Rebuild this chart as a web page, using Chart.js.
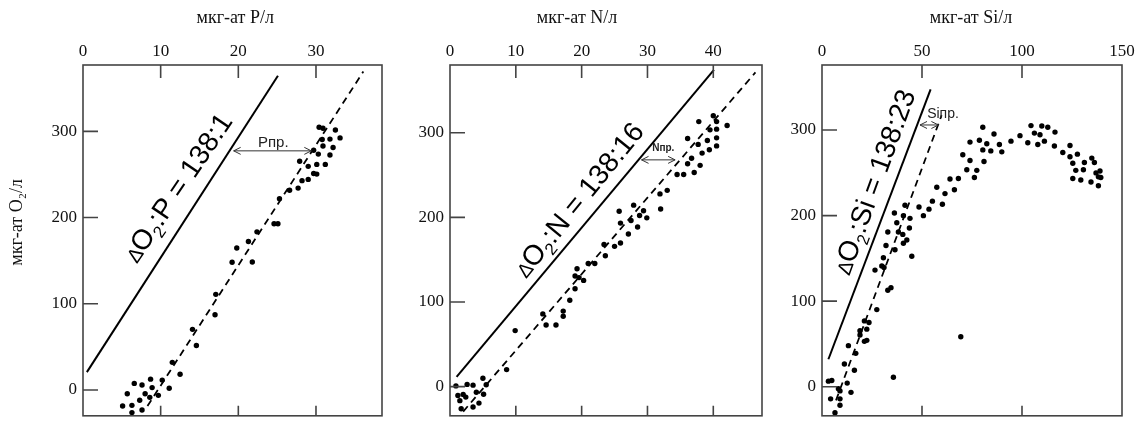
<!DOCTYPE html>
<html>
<head>
<meta charset="utf-8">
<script src="https://cdn.jsdelivr.net/npm/chart.js@4.4.1/dist/chart.umd.min.js"></script>
<style>
  body { margin: 0; background: #fff; width: 1140px; height: 432px; overflow: hidden; position: relative; }
  .panel { position: absolute; top: 0; height: 432px; }
</style>
</head>
<body>
<div class="panel" style="left:0px;width:383px"><canvas id="chartP" width="383" height="432"></canvas></div>
<div class="panel" style="left:383px;width:380px"><canvas id="chartN" width="380" height="432"></canvas></div>
<div class="panel" style="left:763px;width:377px"><canvas id="chartSi" width="377" height="432"></canvas></div>
<script>
// tick labels
const yTicks = [0, 100, 200, 300];
const xTicksP = [0, 10, 20, 30];
const xTicksN = [0, 10, 20, 30, 40];
const xTicksSi = [0, 50, 100, 150];

// measured points [x, O2]
const pointsP = [
  [5.1,-18.7],[6.3,-17.9],[6.3,-26.3],[7.6,-23.2],[5.7,-4.4],[7.3,-12.0],[6.6,7.6],[7.6,5.7],
  [8.0,-4.4],[8.7,12.5],[8.9,2.7],[8.6,-8.6],[9.7,-6.3],[10.2,11.4],[11.1,1.9],[11.5,32.0],
  [12.5,18.2],[14.1,70.3],[14.6,51.5],[17.0,87.3],[17.1,110.9],[19.2,148.1],[19.8,164.7],
  [21.3,172.2],[21.8,148.5],[22.4,183.4],[24.6,192.9],[25.1,192.9],[25.3,221.8],[26.6,231.6],
  [27.7,234.2],[28.2,242.8],[29.0,244.3],[27.9,265.4],[29.0,259.4],[29.7,251.1],[30.1,250.4],
  [30.1,261.7],[31.2,261.7],[30.3,273.6],[31.8,272.5],[29.7,278.1],[30.9,283.1],[32.2,281.2],
  [30.8,290.5],[31.8,291.0],[33.1,292.4],[32.5,301.5],[30.4,304.8],[30.9,303.7]
];
const pointsN = [
  [0.9,0.8],[2.6,2.6],[3.5,1.7],[5.0,9.8],[5.5,2.1],[1.2,-10.6],[2.0,-9.4],[2.4,-12.4],
  [1.5,-16.6],[4.0,-6.7],[5.1,-9.0],[4.4,-19.5],[3.5,-24.1],[1.7,-26.2],[8.6,20.1],[9.9,66.2],
  [14.1,85.9],[14.6,72.7],[16.1,72.7],[17.2,89.2],[17.2,83.2],[18.2,102.0],[19.0,115.7],
  [19.0,130.7],[19.3,139.3],[19.6,128.8],[20.3,125.5],[21.0,145.5],[22.0,145.5],[23.6,154.6],
  [23.4,167.9],[25.0,165.7],[25.9,169.6],[25.9,193.2],[25.7,207.2],[27.1,180.3],[27.5,196.3],
  [27.9,214.4],[28.5,188.6],[28.8,202.1],[29.4,207.8],[29.9,199.4],[31.9,227.7],[32.0,209.8],
  [33.0,231.9],[34.5,250.6],[35.5,250.6],[36.1,293.1],[36.1,263.3],[36.7,269.8],[37.1,252.9],
  [37.7,286.2],[38.0,261.4],[37.8,313.1],[38.3,275.9],[39.1,290.8],[39.4,279.8],[39.5,303.4],
  [40.0,320.0],[40.5,313.1],[40.5,304.2],[40.5,293.9],[40.5,284.4],[42.1,308.5]
];
const pointsSi = [
  [6.5,-30.3],[9.0,-21.6],[4.3,-14.2],[9.0,-14.2],[3.2,6.5],[4.9,7.3],[8.2,-2.3],[9.0,-4.9],
  [12.6,4.2],[14.5,-6.6],[11.2,26.5],[16.2,19.3],[13.2,48.0],[16.9,39.0],[35.7,11.0],[69.4,58.4],
  [21.2,53.0],[22.4,54.2],[19.0,65.5],[22.4,67.3],[19.0,60.5],[23.5,75.0],[21.2,76.9],[27.4,90.1],
  [32.9,112.8],[34.5,115.8],[26.5,136.3],[29.9,141.2],[31.0,139.4],[30.7,150.7],[36.5,160.1],
  [32.0,165.0],[44.9,152.5],[42.4,171.5],[40.7,167.7],[32.9,180.9],[38.2,180.9],[43.7,185.5],
  [40.4,178.0],[37.4,191.6],[44.0,196.8],[40.7,199.9],[36.2,203.0],[41.5,212.0],[48.5,210.1],
  [50.7,199.9],[53.5,207.5],[55.2,216.9],[60.2,213.2],[57.4,233.2],[61.5,225.7],[66.2,230.2],
  [64.0,242.7],[68.2,243.4],[70.4,271.1],[72.4,253.6],[77.4,252.9],[76.2,244.5],[74.0,264.3],
  [81.0,263.2],[74.0,285.9],[78.7,288.1],[80.4,303.2],[80.4,276.8],[82.4,283.9],[84.4,275.6],
  [86.0,295.3],[88.7,283.1],[89.9,274.5],[94.5,287.0],[99.0,293.4],[102.9,285.1],[104.5,305.2],
  [106.2,296.4],[109.0,294.5],[107.9,283.1],[111.2,287.0],[109.9,304.7],[112.9,303.2],[116.5,297.6],
  [116.2,281.3],[120.4,273.7],[124.0,282.0],[124.0,268.8],[127.7,271.8],[125.4,261.2],[131.2,262.0],
  [134.9,267.2],[136.2,262.0],[126.9,252.9],[130.7,253.6],[125.4,243.4],[129.4,241.6],[134.5,239.3],
  [137.0,249.9],[139.0,252.1],[138.2,245.3],[139.4,244.5],[138.2,234.8]
];

// ratio lines (solid) and fitted lines (dashed), endpoints
const solidP = [[0.5,20.7],[25.1,364.6]];
const dashedP = [[8.3,-18.7],[36.1,369.4]];
const solidN = [[1.0,11.5],[40.1,374.3]];
const dashedN = [[2.0,-29.5],[46.4,371.2]];
const solidSi = [[3.2,32.1],[54.3,347.5]];
const dashedSi = [[7.0,-15.9],[59.8,317.2]];

// preformed-nutrient arrows: [xFrom, xTo, y]
const arrowP = [19.4, 29.4, 277.4];
const arrowN = [29.1, 34.2, 267.9];
const arrowSi = [49.0, 58.2, 305.9];

const SANS = '"Liberation Sans", Arial, sans-serif';
const SERIF = '"Liberation Serif", "Times New Roman", serif';

function drawRatioText(ctx, parts, cx, cy, deg, size) {
    ctx.save();
    ctx.translate(cx, cy);
    ctx.rotate(deg * Math.PI / 180);
    let w = 0;
    parts.forEach(p => {
        ctx.font = Math.round(size * p.s) + 'px ' + SANS;
        p.w = ctx.measureText(p.t).width;
        w += p.w;
    });
    let x = -w / 2;
    ctx.textAlign = 'left';
    ctx.textBaseline = 'alphabetic';
    parts.forEach(p => {
        ctx.font = Math.round(size * p.s) + 'px ' + SANS;
        ctx.fillText(p.t, x, size * 0.36 + (p.dy || 0) * size);
        x += p.w;
    });
    ctx.restore();
}

function drawArrow(ctx, x1, x2, y) {
    ctx.beginPath();
    ctx.moveTo(x1, y); ctx.lineTo(x2, y);
    ctx.moveTo(x1 + 7, y - 3.5); ctx.lineTo(x1, y); ctx.lineTo(x1 + 7, y + 3.5);
    ctx.moveTo(x2 - 7, y - 3.5); ctx.lineTo(x2, y); ctx.lineTo(x2 - 7, y + 3.5);
    ctx.stroke();
}

const decoPlugin = {
    id: 'deco',
    afterDatasetsDraw(chart, args, o) {
        const ctx = chart.ctx;
        const a = chart.chartArea;
        const x = chart.scales.x, y = chart.scales.y;
        ctx.save();
        // frame and inner ticks
        ctx.strokeStyle = '#444';
        ctx.lineWidth = 1.6;
        ctx.strokeRect(a.left, a.top, a.right - a.left, a.bottom - a.top);
        ctx.beginPath();
        o.marks.forEach(v => {
            const px = x.getPixelForValue(v);
            ctx.moveTo(px, a.top); ctx.lineTo(px, a.top + 13);
            ctx.moveTo(px, a.bottom); ctx.lineTo(px, a.bottom - 10);
        });
        yTicks.forEach(v => {
            const py = y.getPixelForValue(v);
            ctx.moveTo(a.left, py); ctx.lineTo(a.left + 15, py);
        });
        ctx.stroke();

        // axis titles
        ctx.fillStyle = '#111';
        ctx.font = '18px ' + SERIF;
        ctx.textAlign = 'center';
        ctx.textBaseline = 'middle';
        ctx.fillText(o.title, x.getPixelForValue(o.titleAt), a.top - 47);
        if (o.yTitle) {
            ctx.save();
            ctx.translate(a.left - 66, (a.top + a.bottom) / 2 - 18);
            ctx.rotate(-Math.PI / 2);
            ctx.fillText(o.yTitle, 0, 0);
            ctx.restore();
        }

        // arrow + label
        ctx.strokeStyle = '#333';
        ctx.lineWidth = 1;
        const ay = y.getPixelForValue(o.arrow[2]);
        drawArrow(ctx, x.getPixelForValue(o.arrow[0]), x.getPixelForValue(o.arrow[1]), ay);
        ctx.fillStyle = '#222';
        ctx.font = o.arrowFont + ' ' + SANS;
        ctx.fillText(o.arrowText, x.getPixelForValue(o.arrowTextAt[0]), y.getPixelForValue(o.arrowTextAt[1]));

        // ratio label along the solid line
        ctx.fillStyle = '#000';
        drawRatioText(ctx, o.ratio, x.getPixelForValue(o.ratioAt[0]), y.getPixelForValue(o.ratioAt[1]), o.ratioAngle, 28);
        ctx.restore();
    }
};

function toXY(arr) {
    return arr.map(p => ({ x: p[0], y: p[1] }));
}

function makePanel(id, cfg) {
    return new Chart(document.getElementById(id), {
        type: 'scatter',
        data: {
            datasets: [
                { data: toXY(cfg.points), pointRadius: 2.7, pointBackgroundColor: '#000', pointBorderWidth: 0, order: 0 },
                { type: 'line', data: toXY(cfg.solid), borderColor: '#000', borderWidth: 2, pointRadius: 0, fill: false, order: 1 },
                { type: 'line', data: toXY(cfg.dashed), borderColor: '#000', borderWidth: 1.8, borderDash: [7, 5], pointRadius: 0, fill: false, order: 2 }
            ]
        },
        options: {
            responsive: false,
            animation: false,
            devicePixelRatio: 1,
            layout: { autoPadding: false, padding: { left: 0, top: 0, right: cfg.padRight, bottom: 6 } },
            plugins: {
                legend: { display: false },
                tooltip: { enabled: false },
                deco: cfg.deco
            },
            scales: {
                x: {
                    type: 'linear', position: 'top', min: cfg.xMin, max: cfg.xMax,
                    afterFit: s => { s.height = 65; },
                    afterBuildTicks: s => { s.ticks = cfg.xTicks.map(v => ({ value: v })); },
                    grid: { display: false, drawTicks: false },
                    border: { display: false },
                    ticks: { padding: 3, autoSkip: false, maxRotation: 0, color: '#111', font: { family: SERIF, size: 17 } }
                },
                y: {
                    type: 'linear', position: 'left', min: cfg.yMin, max: cfg.yMax,
                    afterFit: s => { s.width = cfg.yWidth; },
                    afterBuildTicks: s => { s.ticks = yTicks.map(v => ({ value: v })); },
                    grid: { display: false, drawTicks: false },
                    border: { display: false },
                    ticks: { padding: 6, color: '#111', font: { family: SERIF, size: 17 } }
                }
            }
        },
        plugins: [decoPlugin]
    });
}

makePanel('chartP', {
    points: pointsP, solid: solidP, dashed: dashedP, xTicks: xTicksP,
    xMin: 0, xMax: 38.5, yMin: -30, yMax: 377, yWidth: 83, padRight: 1,
    deco: {
        marks: [10, 20, 30], title: 'мкг-ат P/л', titleAt: 19.6, yTitle: 'мкг-ат O₂/л',
        arrow: arrowP, arrowText: 'Pпр.', arrowTextAt: [24.5, 286.8], arrowFont: '15px',
        ratio: [{ t: '∆', s: 0.7 }, { t: 'O', s: 1 }, { t: '2', s: 0.6, dy: 0.22 }, { t: ':P = 138:1', s: 1 }],
        ratioAt: [12.1, 235.5], ratioAngle: -56
    }
});

makePanel('chartN', {
    points: pointsN, solid: solidN, dashed: dashedN, xTicks: xTicksN,
    xMin: 0, xMax: 47.4, yMin: -34.5, yMax: 380, yWidth: 67, padRight: 1,
    deco: {
        marks: [10, 20, 30, 40], title: 'мкг-ат N/л', titleAt: 19.3,
        arrow: arrowN, arrowText: 'Nпр.', arrowTextAt: [32.4, 281.3], arrowFont: 'bold 10px',
        ratio: [{ t: '∆', s: 0.7 }, { t: 'O', s: 1 }, { t: '2', s: 0.6, dy: 0.22 }, { t: ':N = 138:16', s: 1 }],
        ratioAt: [19.45, 221.6], ratioAngle: -51
    }
});

makePanel('chartSi', {
    points: pointsSi, solid: solidSi, dashed: dashedSi, xTicks: xTicksSi,
    xMin: 0, xMax: 150, yMin: -34, yMax: 376, yWidth: 59, padRight: 18,
    deco: {
        marks: [50, 100], title: 'мкг-ат Si/л', titleAt: 74.5,
        arrow: arrowSi, arrowText: 'Siпр.', arrowTextAt: [60.5, 319], arrowFont: '14px',
        ratio: [{ t: '∆', s: 0.7 }, { t: 'O', s: 1 }, { t: '2', s: 0.6, dy: 0.22 }, { t: ':Si = 138:23', s: 1 }],
        ratioAt: [25.6, 240], ratioAngle: -70
    }
});
</script>
</body>
</html>
